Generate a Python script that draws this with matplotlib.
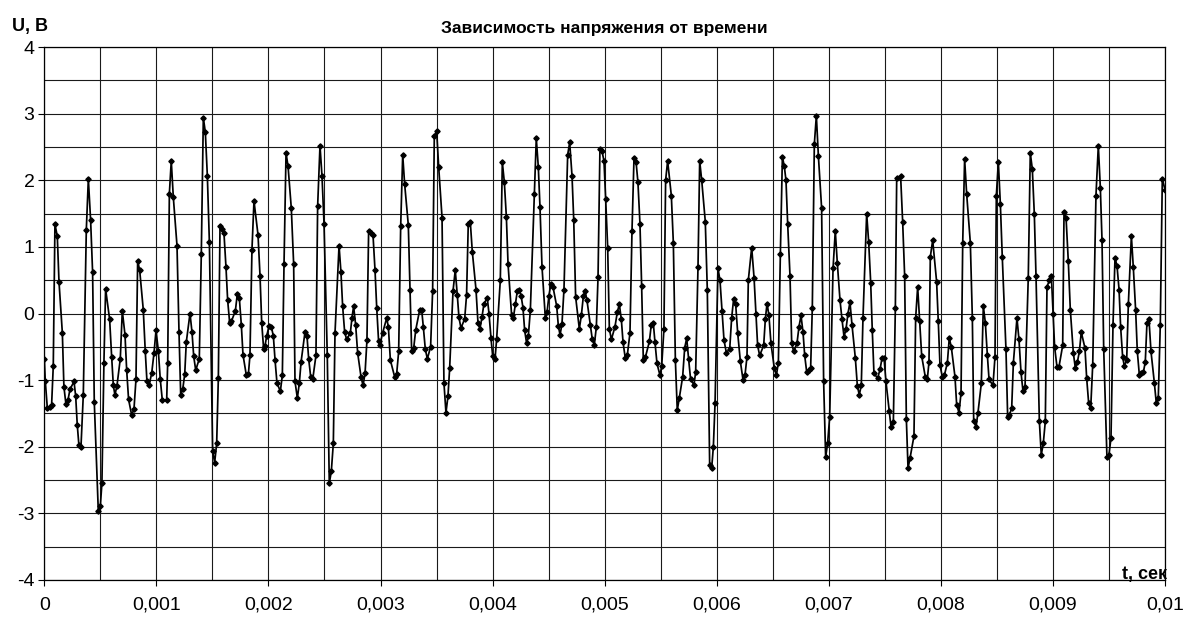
import numpy as np
import matplotlib
matplotlib.use("Agg")
import matplotlib.pyplot as plt
from matplotlib.ticker import MultipleLocator

plt.rcParams['font.family'] = ['Liberation Sans', 'DejaVu Sans']
plt.rcParams['axes.unicode_minus'] = False

# time in milliseconds, voltage in volts
t_ms = [
    0.000, 0.009, 0.027, 0.048, 0.065, 0.080, 0.095, 0.116, 0.131, 0.161,
    0.175, 0.193, 0.211, 0.229, 0.265, 0.280, 0.294, 0.309, 0.327, 0.348,
    0.375, 0.393, 0.413, 0.431, 0.446, 0.482, 0.500, 0.514, 0.532, 0.547,
    0.583, 0.601, 0.616, 0.630, 0.648, 0.678, 0.696, 0.720, 0.735, 0.752,
    0.779, 0.800, 0.818, 0.833, 0.851, 0.883, 0.901, 0.916, 0.934,
    0.958, 0.979, 0.997, 1.018, 1.035, 1.053, 1.092, 1.101, 1.116, 1.133,
    1.151, 1.184, 1.202, 1.217, 1.235, 1.253, 1.267, 1.300, 1.318, 1.333,
    1.351, 1.383, 1.401, 1.419, 1.437, 1.455, 1.473, 1.502, 1.520, 1.538,
    1.553, 1.568, 1.586, 1.603, 1.621, 1.636, 1.654, 1.669, 1.705, 1.722,
    1.740, 1.758, 1.773, 1.803, 1.821, 1.835, 1.853, 1.871, 1.907, 1.925,
    1.940, 1.957,
    1.969, 1.984, 2.005, 2.026, 2.044, 2.059, 2.076, 2.106, 2.124, 2.139,
    2.157, 2.175, 2.204, 2.225, 2.237, 2.258, 2.276, 2.291, 2.326, 2.344,
    2.359, 2.377, 2.395, 2.424, 2.439, 2.460, 2.478, 2.496, 2.525, 2.543,
    2.561, 2.579, 2.594, 2.630, 2.647, 2.662, 2.680, 2.698, 2.731, 2.745,
    2.760, 2.778, 2.796, 2.826, 2.844, 2.862, 2.879, 2.894, 2.915, 2.933,
    2.951, 2.966, 2.983,
    2.995, 3.019, 3.055, 3.070, 3.088, 3.126, 3.144, 3.162, 3.180, 3.198,
    3.215, 3.248, 3.263, 3.278, 3.296, 3.314, 3.349, 3.367, 3.382, 3.400,
    3.418, 3.447, 3.465, 3.480, 3.501, 3.519, 3.549, 3.566, 3.584, 3.602,
    3.617, 3.647, 3.667, 3.685, 3.700, 3.718, 3.751, 3.768, 3.783, 3.801,
    3.819, 3.852, 3.870, 3.887, 3.905, 3.923, 3.953, 3.968, 3.986, 4.001,
    4.022, 4.036, 4.069, 4.087, 4.105, 4.123, 4.138, 4.170, 4.185, 4.203,
    4.221, 4.236, 4.254, 4.271, 4.286, 4.304, 4.319, 4.337, 4.373, 4.390,
    4.408, 4.423, 4.441, 4.471, 4.486, 4.503, 4.521, 4.539, 4.572, 4.587,
    4.602, 4.619, 4.637, 4.670, 4.688, 4.709, 4.724, 4.741, 4.774, 4.792,
    4.810, 4.825, 4.842, 4.872, 4.890, 4.908, 4.926, 4.941, 4.958, 4.976,
    4.994, 5.009, 5.027, 5.042, 5.060,
    5.092, 5.113, 5.131, 5.149, 5.164, 5.184, 5.202, 5.226, 5.244, 5.262,
    5.280, 5.297, 5.315, 5.330, 5.345, 5.363, 5.399, 5.416, 5.434, 5.449,
    5.467, 5.494, 5.509, 5.529, 5.544, 5.562, 5.595, 5.613, 5.631, 5.648,
    5.666, 5.696, 5.714, 5.732, 5.749, 5.767, 5.797, 5.812, 5.833, 5.848,
    5.866, 5.898, 5.916, 5.937, 5.955, 5.970, 5.985, 6.011, 6.029, 6.047,
    6.065,
    6.086, 6.116, 6.133, 6.151, 6.169, 6.187, 6.211, 6.235, 6.252, 6.270,
    6.282, 6.312, 6.333, 6.350, 6.365, 6.383, 6.419, 6.434, 6.449, 6.466,
    6.484, 6.514, 6.532, 6.550, 6.568, 6.586, 6.603, 6.618, 6.633, 6.654,
    6.669, 6.687, 6.716, 6.734, 6.752, 6.770, 6.785, 6.803, 6.820, 6.838,
    6.853, 6.871, 6.889, 6.907, 6.936, 6.954, 6.972, 6.990, 7.008, 7.038,
    7.058, 7.076,
    7.100, 7.118, 7.136, 7.154, 7.171, 7.189, 7.207, 7.237, 7.255, 7.272,
    7.290, 7.305, 7.338, 7.356, 7.374, 7.388, 7.403, 7.436, 7.457, 7.475,
    7.493, 7.510, 7.540, 7.555, 7.576, 7.594, 7.606, 7.641, 7.659, 7.677,
    7.692, 7.707, 7.725, 7.760, 7.775, 7.793, 7.811, 7.829, 7.861, 7.879,
    7.894, 7.906, 7.927, 7.962, 7.977, 7.992, 8.013, 8.031, 8.058, 8.075,
    8.093,
    8.126, 8.141, 8.162, 8.180, 8.195, 8.212, 8.230, 8.263, 8.281, 8.293,
    8.314, 8.331, 8.361, 8.379, 8.397, 8.415, 8.430, 8.465, 8.483, 8.495,
    8.513, 8.531, 8.548, 8.581, 8.596, 8.611, 8.632, 8.647, 8.679, 8.697,
    8.715, 8.733, 8.751, 8.780, 8.798, 8.816, 8.834, 8.849, 8.879, 8.896,
    8.914, 8.932, 8.947, 8.968, 8.986, 9.001, 9.015, 9.036, 9.054,
    9.087, 9.099, 9.117, 9.137, 9.155, 9.182, 9.200, 9.218, 9.236, 9.253,
    9.286, 9.301, 9.319, 9.337, 9.355, 9.384, 9.405, 9.423, 9.438, 9.453,
    9.482, 9.500, 9.518, 9.536, 9.554, 9.572, 9.590, 9.604, 9.622, 9.637,
    9.658, 9.673, 9.700, 9.717, 9.738, 9.753, 9.771, 9.789, 9.807, 9.824,
    9.839, 9.857, 9.875, 9.905, 9.922, 9.940, 9.958, 9.976, 10.000,
]

u_volts = [
    -0.68, -1.02, -1.42, -1.40, -1.38, -0.79, 1.34, 1.16, 0.48, -0.29,
    -1.10, -1.36, -1.30, -1.14, -1.02, -1.24, -1.67, -1.98, -2.01, -1.22,
    1.26, 2.02, 1.41, 0.62, -1.33, -2.97, -2.89, -2.55, -0.74, 0.37,
    -0.09, -0.65, -1.08, -1.22, -1.09, -0.68, 0.04, -0.32, -0.85, -1.29,
    -1.52, -1.44, -0.99, 0.79, 0.65, 0.06, -0.57, -1.02, -1.08,
    -0.90, -0.59, -0.25, -0.57, -0.99, -1.30, -1.30, -0.74, 1.80, 2.29,
    1.75, 1.02, -0.28, -1.22, -1.14, -0.91, -0.43, 0.00, -0.28, -0.64,
    -0.85, -0.68, 0.90, 2.94, 2.72, 2.06, 1.07, -2.06, -2.24, -1.95,
    -0.97, 1.32, 1.27, 1.21, 0.70, 0.20, -0.14, -0.12, 0.04, 0.29,
    0.24, -0.17, -0.62, -0.93, -0.91, -0.63, 0.96, 1.69, 1.18, 0.56,
    -0.14, -0.53,
    -0.49, -0.34, -0.19, -0.20, -0.34, -0.70, -1.04, -1.17, -0.93, 0.74,
    2.41, 2.21, 1.58, 0.74, -1.02, -1.27, -1.04, -0.73, -0.28, -0.34,
    -0.68, -0.95, -0.99, -0.63, 1.61, 2.52, 2.06, 1.35, -0.63, -2.55,
    -2.37, -1.95, -0.29, 1.02, 0.62, 0.11, -0.28, -0.39, -0.29, -0.07,
    0.11, -0.17, -0.59, -0.95, -1.08, -0.90, -0.40, 1.24, 1.21, 1.18,
    0.65, 0.09, -0.42,
    -0.47, -0.29, -0.07, -0.20, -0.70, -0.95, -0.91, -0.57, 1.31, 2.38,
    1.95, 1.33, 0.36, -0.57, -0.52, -0.25, 0.05, 0.06, -0.20, -0.54,
    -0.68, -0.50, 0.34, 2.66, 2.74, 2.20, 1.44, -1.04, -1.49, -1.24,
    -0.82, 0.34, 0.65, 0.28, -0.06, -0.22, -0.08, 0.28, 1.34, 1.38,
    0.93, 0.36, -0.15, -0.23, -0.06, 0.15, 0.23, 0.00, -0.37, -0.64,
    -0.68, -0.39, 0.50, 2.27, 1.97, 1.45, 0.74, -0.03, -0.07, 0.14,
    0.34, 0.36, 0.27, 0.09, -0.25, -0.45, -0.34, 0.05, 1.80, 2.63,
    2.20, 1.60, 0.70, -0.07, 0.02, 0.27, 0.45, 0.40, 0.11, -0.19,
    -0.32, -0.16, 0.36, 2.38, 2.57, 2.06, 1.41, 0.25, -0.23, -0.03,
    0.26, 0.34, 0.20, -0.17, -0.39, -0.47, -0.20, 0.55, 2.47, 2.44,
    2.29, 1.72, 0.99, -0.23, -0.39,
    -0.20, 0.02, 0.14, -0.09, -0.43, -0.67, -0.63, -0.29, 1.24, 2.34,
    2.28, 1.97, 1.35, 0.42, -0.70, -0.66, -0.42, -0.17, -0.14, -0.43,
    -0.75, -0.93, -0.79, -0.23, 2.00, 2.29, 1.77, 1.06, -0.70, -1.45,
    -1.27, -0.95, -0.52, -0.37, -0.68, -0.99, -1.07, -0.88, 0.70, 2.29,
    2.00, 1.38, 0.36, -2.27, -2.32, -2.00, -1.35, 0.68, 0.50, 0.04,
    -0.40,
    -0.59, -0.53, -0.07, 0.22, 0.14, -0.29, -0.72, -1.00, -0.93, -0.65,
    0.50, 0.99, 0.54, 0.00, -0.48, -0.63, -0.48, -0.08, 0.15, -0.03,
    -0.45, -0.82, -0.93, -0.74, 0.90, 2.35, 2.21, 2.00, 1.35, 0.56,
    -0.45, -0.57, -0.45, -0.20, -0.03, -0.28, -0.63, -0.88, -0.85, -0.82,
    0.09, 2.54, 2.97, 2.37, 1.58, -1.02, -2.16, -1.94, -1.55, 0.68,
    1.24, 0.76,
    0.20, -0.09, -0.35, -0.23, 0.00, 0.17, -0.17, -0.67, -1.09, -1.22,
    -1.08, -0.07, 1.50, 1.07, 0.46, -0.25, -0.90, -0.97, -0.84, -0.67,
    -0.67, -1.02, -1.47, -1.70, -1.63, 0.09, 2.04, 2.06, 1.38, 0.56,
    -1.58, -2.32, -2.17, -1.84, -0.07, 0.40, -0.12, -0.64, -0.95, -0.99,
    -0.73, 0.85, 1.10, 0.48, -0.12, -0.77, -0.95, -0.93, -0.74, -0.37,
    -0.50,
    -0.95, -1.37, -1.49, -1.19, 1.06, 2.32, 1.80, 1.06, -0.07, -1.62,
    -1.70, -1.49, -1.05, 0.11, -0.14, -0.63, -0.99, -1.08, -0.65, 1.77,
    2.27, 1.64, 0.85, -0.54, -1.55, -1.53, -1.42, -0.74, -0.07, -0.39,
    -0.88, -1.17, -1.10, 0.54, 2.41, 2.17, 1.49, 0.56, -1.62, -2.12,
    -1.95, -1.62, 0.40, 0.50, 0.57, 0.00, -0.50, -0.80, -0.80,
    -0.48, 1.52, 1.44, 0.79, 0.06, -0.59, -0.82, -0.73, -0.57, -0.28,
    -0.52, -0.97, -1.35, -1.42, -0.77, 1.77, 2.52, 1.89, 1.10, -0.53,
    -2.16, -2.12, -1.87, -0.17, 0.84, 0.71, 0.36, -0.20, -0.65, -0.79,
    -0.70, 0.14, 1.16, 0.70, 0.05, -0.57, -0.92, -0.90, -0.88, -0.73,
    -0.14, -0.09, -0.57, -1.04, -1.34, -1.27, -0.17, 2.02, 1.86,
]

x_ticks = [0, 0.001, 0.002, 0.003, 0.004, 0.005, 0.006, 0.007, 0.008, 0.009, 0.01]
x_labels = ['0', '0,001', '0,002', '0,003', '0,004', '0,005',
            '0,006', '0,007', '0,008', '0,009', '0,01']
y_ticks = [-4, -3, -2, -1, 0, 1, 2, 3, 4]

t = np.array(t_ms) / 1000.0
u = np.array(u_volts)

fig = plt.figure(figsize=(11.87, 6.18), dpi=100)
ax = fig.add_axes([44.3 / 1187, 1 - 580 / 618, (1165 - 44.3) / 1187, (580 - 47) / 618])

ax.plot(t, u, color='black', lw=1.25, marker='D', markersize=2.7,
        markerfacecolor='black', markeredgecolor='black', zorder=3)

ax.set_xlim(0, 0.01)
ax.set_ylim(-4, 4)
ax.set_xticks(x_ticks)
ax.set_xticklabels(x_labels)
ax.set_yticks(y_ticks)
ax.set_yticklabels([str(v) for v in y_ticks])
ax.xaxis.set_minor_locator(MultipleLocator(0.0005))
ax.yaxis.set_minor_locator(MultipleLocator(0.5))
ax.grid(True, which='both', color='#1a1a1a', lw=0.8)
ax.set_axisbelow(True)
ax.tick_params(axis='both', which='major', labelsize=14, length=4, width=0.8, color='black')
ax.tick_params(axis='x', which='major', pad=8)
ax.tick_params(axis='y', which='major', pad=3)
ax.tick_params(axis='both', which='minor', length=0)
for s in ax.spines.values():
    s.set_color('black')
    s.set_linewidth(0.9)

fig.text(604 / 1187, 1 - 28 / 618, 'Зависимость напряжения от времени',
         ha='center', va='center', fontsize=12.5, fontweight='bold')
fig.text(12 / 1187, 1 - 31 / 618, 'U, B', ha='left', va='baseline',
         fontsize=13, fontweight='bold')
fig.text(1167 / 1187, 1 - 579 / 618, 't, сек', ha='right', va='baseline',
         fontsize=13, fontweight='bold')

fig.savefig('out.png', dpi=100)
